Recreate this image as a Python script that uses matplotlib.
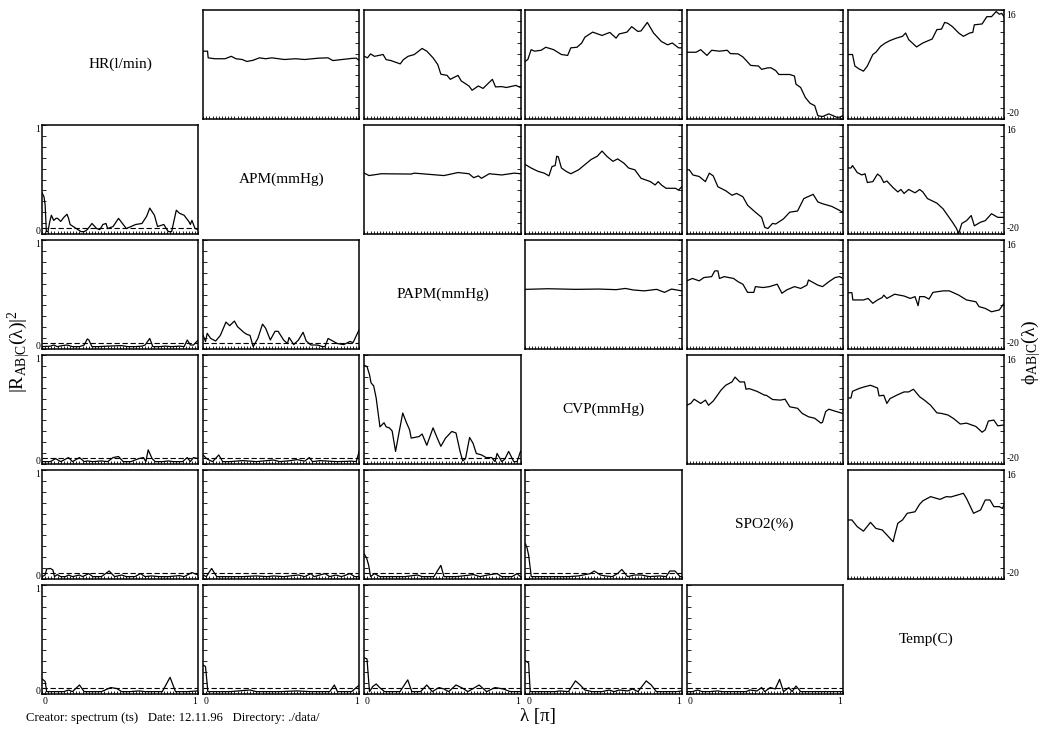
import matplotlib

matplotlib.use("Agg")
import matplotlib.pyplot as plt
import numpy as np

plt.rcParams["font.family"] = ["Liberation Serif", "DejaVu Serif"]
plt.rcParams["mathtext.fontset"] = "custom"
plt.rcParams["mathtext.rm"] = "Liberation Serif"
plt.rcParams["mathtext.it"] = "Liberation Serif:italic"
plt.rcParams["mathtext.bf"] = "Liberation Serif:bold"

NAMES = ["HR(l/min)", "APM(mmHg)", "PAPM(mmHg)", "CVP(mmHg)", "SPO2(%)", "Temp(C)"]

# ---- phase spectra (upper triangle), lambda in [0,1] pi, phase in -20..16
PH_HR_APM_X = [0, 0.028, 0.032, 0.075, 0.14, 0.18, 0.21, 0.25, 0.28, 0.32, 0.36, 0.40, 0.44, 0.52,
               0.59, 0.65, 0.74, 0.80, 0.83, 0.89, 0.95, 0.98, 1.0]
PH_HR_APM_Y = [2.4, 2.4, 0.2, -0.1, -0.1, 0.7, -0.1, -0.35, -1.0, -0.6, 0.2, -0.1, 0.2, -0.35,
               -0.1, -0.35, 0.1, 0.2, -0.7, -0.35, 0.0, 0.1, -0.7]

PH_HR_PAPM_X = [0, 0.02, 0.04, 0.065, 0.12, 0.14, 0.17, 0.23, 0.25, 0.28, 0.32, 0.37, 0.40, 0.44,
                0.47, 0.49, 0.53, 0.55, 0.60, 0.62, 0.67, 0.69, 0.73, 0.76, 0.78, 0.82, 0.84, 0.88,
                0.91, 0.97, 1.0]
PH_HR_PAPM_Y = [0.7, 0.2, 1.5, 0.7, 1.3, -0.4, -0.7, -1.8, -0.4, 0.7, 1.3, 3.3, 2.4, 0.2,
                -2.0, -5.2, -5.6, -6.9, -5.6, -7.4, -9.1, -10.5, -9.1, -9.9, -8.9, -6.9, -9.4, -9.3,
                -9.6, -8.9, -9.6]

PH_HR_CVP_X = [0, 0.015, 0.036, 0.058, 0.10, 0.13, 0.18, 0.23, 0.27, 0.29, 0.33, 0.36, 0.38, 0.43,
               0.49, 0.54, 0.58, 0.60, 0.65, 0.68, 0.72, 0.74, 0.78, 0.82, 0.87, 0.91, 0.94, 0.98, 1.0]
PH_HR_CVP_Y = [-0.9, -0.35, 2.9, 2.4, 2.7, 3.7, 2.9, 1.3, 1.0, 3.5, 3.7, 5.1, 7.0, 8.7,
               7.6, 8.6, 6.7, 8.1, 8.7, 10.5, 8.9, 9.1, 11.9, 8.4, 5.6, 4.5, 5.1, 3.5, 3.5]

PH_HR_SPO2_X = [0, 0.06, 0.09, 0.13, 0.16, 0.21, 0.26, 0.28, 0.33, 0.36, 0.38, 0.41, 0.46, 0.48,
                0.52, 0.54, 0.57, 0.59, 0.66, 0.69, 0.70, 0.73, 0.76, 0.79, 0.82, 0.84, 0.87, 0.91,
                0.96, 0.98, 1.0]
PH_HR_SPO2_Y = [2.05, 2.05, 2.9, 1.0, 2.7, 2.4, 2.7, 1.6, 1.5, 0.5, -0.6, -2.3, -2.5, -3.6,
                -3.1, -3.1, -4.0, -5.3, -5.3, -5.8, -8.5, -9.6, -12.9, -14.8, -15.6, -18.9, -19.2,
                -18.3, -19.4, -19.4, -18.9]

PH_HR_TEMP_X = [0, 0.03, 0.045, 0.07, 0.10, 0.125, 0.16, 0.18, 0.21, 0.24, 0.27, 0.31, 0.35, 0.37,
                0.39, 0.44, 0.48, 0.53, 0.54, 0.57, 0.60, 0.62, 0.64, 0.67, 0.71, 0.74, 0.78, 0.80,
                0.81, 0.86, 0.89, 0.92, 0.95, 0.97, 0.985, 1.0]
PH_HR_TEMP_Y = [1.3, 1.3, -2.5, -3.4, -4.2, -2.5, 1.3, 2.05, 4.0, 5.1, 5.9, 6.7, 7.3, 8.4,
                6.2, 3.8, 5.1, 6.2, 6.4, 9.5, 9.7, 11.9, 11.6, 10.5, 8.4, 7.3, 8.4, 8.6,
                11.1, 11.4, 13.8, 13.8, 15.5, 14.6, 14.9, 13.8]

PH_APM_PAPM_X = [0, 0.03, 0.11, 0.30, 0.32, 0.51, 0.60, 0.67, 0.70, 0.73, 0.75, 0.80, 0.88, 0.96, 1.0]
PH_APM_PAPM_Y = [0.1, -0.7, -0.1, -0.2, 0.1, -0.7, 0.3, -0.1, -1.4, -0.8, -1.6, -0.1, -0.5, 0.1, -0.1]

PH_APM_CVP_X = [0, 0.036, 0.08, 0.12, 0.15, 0.17, 0.19, 0.20, 0.21, 0.23, 0.26, 0.29, 0.34, 0.38,
                0.42, 0.46, 0.49, 0.52, 0.56, 0.59, 0.63, 0.66, 0.70, 0.74, 0.80, 0.83, 0.85, 0.87,
                0.90, 0.96, 0.98, 1.0]
PH_APM_CVP_Y = [2.9, 1.8, 0.7, 0.1, -0.8, 2.3, 2.6, 5.7, 5.5, 1.8, 0.7, -0.1, 1.2, 2.9,
                4.6, 5.7, 7.4, 5.7, 4.0, 4.8, 3.4, 1.8, 1.2, -1.6, -2.7, -3.8, -2.7, -3.8,
                -4.9, -4.9, -5.5, -4.4]

PH_APM_SPO2_X = [0, 0.017, 0.04, 0.08, 0.12, 0.145, 0.17, 0.20, 0.25, 0.29, 0.32, 0.36, 0.39, 0.44,
                 0.48, 0.50, 0.52, 0.55, 0.57, 0.62, 0.66, 0.71, 0.75, 0.81, 0.84, 0.87, 0.93, 0.96, 1.0]
PH_APM_SPO2_Y = [1.2, 1.2, -0.5, -1.0, -2.7, 0.1, -0.8, -4.4, -5.7, -7.2, -6.6, -7.7, -10.5, -12.8,
                 -14.5, -17.8, -18.2, -16.5, -16.7, -15.0, -12.8, -12.4, -8.3, -6.9, -9.4, -10.0,
                 -10.9, -11.7, -12.8]

PH_APM_TEMP_X = [0, 0.02, 0.03, 0.06, 0.09, 0.11, 0.125, 0.16, 0.19, 0.21, 0.23, 0.25, 0.29, 0.32,
                 0.34, 0.36, 0.39, 0.43, 0.46, 0.48, 0.51, 0.57, 0.61, 0.64, 0.67, 0.695, 0.71, 0.73,
                 0.76, 0.79, 0.81, 0.85, 0.88, 0.92, 0.96, 1.0]
PH_APM_TEMP_Y = [1.8, 1.8, 2.6, 0.3, -0.5, -0.1, -3.0, -2.7, -0.2, -1.0, -3.0, -2.5, -4.7, -6.1,
                 -5.3, -6.6, -5.3, -6.4, -5.3, -6.1, -8.3, -9.8, -11.7, -13.9, -16.1, -18.1, -19.8,
                 -16.5, -15.6, -13.9, -17.3, -16.1, -15.6, -13.3, -14.5, -14.5]

PH_PAPM_CVP_X = [0, 0.145, 0.32, 0.47, 0.58, 0.64, 0.69, 0.76, 0.84, 0.89, 0.935, 1.0]
PH_PAPM_CVP_Y = [-0.3, -0.1, -0.3, -0.2, -0.4, 0.0, -0.5, -0.8, -0.3, -1.3, -0.2, -0.8]

PH_PAPM_SPO2_X = [0, 0.037, 0.08, 0.11, 0.16, 0.18, 0.20, 0.21, 0.24, 0.30, 0.33, 0.36, 0.39, 0.43,
                  0.44, 0.49, 0.53, 0.58, 0.61, 0.64, 0.69, 0.73, 0.77, 0.78, 0.84, 0.87, 0.91, 0.95,
                  0.98, 1.0]
PH_PAPM_SPO2_Y = [2.5, 3.3, 2.5, 3.6, 3.9, 5.8, 5.8, 3.3, 3.9, 3.3, 2.2, 1.4, -1.3, -1.3,
                  0.6, 0.3, 0.6, 1.4, -1.6, -0.5, 0.6, 0.0, 1.1, 2.8, 1.1, 0.6, 2.2, 3.6, 3.9, 3.3]

PH_PAPM_TEMP_X = [0, 0.026, 0.032, 0.10, 0.13, 0.16, 0.19, 0.22, 0.23, 0.25, 0.30, 0.36, 0.40, 0.43,
                  0.45, 0.46, 0.49, 0.52, 0.545, 0.61, 0.65, 0.71, 0.76, 0.82, 0.84, 0.88, 0.92, 0.97, 1.0]
PH_PAPM_TEMP_Y = [-1.4, -1.4, -3.8, -3.8, -3.3, -4.9, -3.8, -3.0, -2.2, -3.3, -1.9, -2.5, -3.3, -2.7,
                  -5.7, -2.7, -2.7, -3.5, -1.3, -0.8, -0.8, -2.2, -3.8, -4.4, -6.0, -6.6, -7.7, -7.1, -4.9]

PH_CVP_SPO2_X = [0, 0.026, 0.048, 0.09, 0.12, 0.14, 0.17, 0.19, 0.22, 0.25, 0.29, 0.31, 0.34, 0.37,
                 0.38, 0.40, 0.45, 0.50, 0.51, 0.55, 0.60, 0.63, 0.66, 0.71, 0.74, 0.78, 0.82, 0.86,
                 0.87, 0.89, 0.91, 0.96, 1.0]
PH_CVP_SPO2_Y = [-0.6, 0.0, 1.4, 0.0, 1.1, -0.6, 0.8, 2.2, 4.4, 6.0, 7.1, 8.7, 7.1, 7.1,
                 4.7, 4.9, 4.0, 2.7, 2.7, 1.3, 1.1, 1.4, -1.1, -1.6, -3.3, -4.4, -4.9, -6.5,
                 -6.2, -2.7, -1.9, -2.7, -3.3]

PH_CVP_TEMP_X = [0, 0.02, 0.03, 0.07, 0.10, 0.145, 0.19, 0.20, 0.23, 0.25, 0.27, 0.32, 0.36, 0.39,
                 0.42, 0.46, 0.49, 0.53, 0.57, 0.60, 0.64, 0.675, 0.72, 0.76, 0.82, 0.86, 0.88, 0.90,
                 0.935, 0.96, 1.0]
PH_CVP_TEMP_Y = [1.8, 1.8, 4.0, 4.9, 5.4, 6.0, 5.1, 2.5, 2.7, 0.0, 1.6, 2.9, 3.8, 3.8,
                 4.7, 2.2, 1.1, -0.6, -3.1, -3.3, -3.8, -4.9, -6.8, -6.5, -7.6, -9.5, -8.7, -5.8,
                 -5.5, -7.4, -7.1]

PH_SPO2_TEMP_X = [0, 0.026, 0.06, 0.10, 0.145, 0.18, 0.22, 0.24, 0.26, 0.29, 0.30, 0.32, 0.35, 0.38,
                  0.43, 0.46, 0.48, 0.53, 0.59, 0.63, 0.66, 0.74, 0.76, 0.805, 0.85, 0.88, 0.91, 0.935,
                  0.97, 0.99, 1.0]
PH_SPO2_TEMP_Y = [-0.5, -0.5, -2.7, -4.2, -1.3, -3.3, -3.8, -4.9, -6.0, -7.7, -5.5, -1.6, -0.5, 1.7,
                  2.2, 4.7, 5.8, 7.2, 6.3, 7.2, 7.1, 8.3, 6.6, 1.7, 2.8, 6.1, 6.1, 3.9, 3.9, 3.3, 4.4]

# ---- partial coherence (lower triangle), 0..1
CO_HR_APM_X = [0, 0.013, 0.02, 0.028, 0.038, 0.05, 0.06, 0.075, 0.09, 0.10, 0.12, 0.14, 0.16, 0.17,
               0.18, 0.20, 0.23, 0.25, 0.27, 0.29, 0.32, 0.35, 0.37, 0.39, 0.41, 0.42, 0.455, 0.49,
               0.52, 0.54, 0.57, 0.60, 0.64, 0.67, 0.69, 0.72, 0.74, 0.78, 0.80, 0.81, 0.83, 0.84,
               0.86, 0.88, 0.91, 0.94, 0.95, 0.96, 0.98, 1.0]
CO_HR_APM_Y = [0.38, 0.34, 0.26, 0.0, 0.0, 0.10, 0.16, 0.11, 0.13, 0.13, 0.10, 0.14, 0.17, 0.13,
               0.07, 0.05, 0.02, 0.0, 0.0, 0.02, 0.08, 0.03, 0.02, 0.07, 0.08, 0.03, 0.05, 0.13,
               0.07, 0.03, 0.05, 0.07, 0.08, 0.15, 0.23, 0.16, 0.05, 0.07, 0.02, 0.0, 0.0, 0.07,
               0.21, 0.18, 0.16, 0.10, 0.07, 0.11, 0.03, 0.02]

CO_HR_PAPM_X = [0, 0.054, 0.076, 0.097, 0.13, 0.16, 0.195, 0.24, 0.27, 0.29, 0.30, 0.32, 0.36, 0.42,
                0.51, 0.55, 0.595, 0.64, 0.66, 0.69, 0.71, 0.75, 0.79, 0.83, 0.88, 0.91, 0.93, 0.95,
                0.97, 1.0]
CO_HR_PAPM_Y = [0.0, 0.005, 0.016, 0.0, 0.01, 0.016, 0.0, 0.0, 0.016, 0.075, 0.065, 0.0, 0.0, 0.005,
                0.01, 0.0, 0.0, 0.005, 0.016, 0.08, 0.0, 0.0, 0.005, 0.0, 0.005, 0.0, 0.065, 0.016,
                0.016, 0.065]

CO_APM_PAPM_X = [0, 0.015, 0.026, 0.048, 0.08, 0.11, 0.146, 0.17, 0.20, 0.22, 0.26, 0.28, 0.30, 0.32,
                 0.35, 0.38, 0.40, 0.43, 0.46, 0.48, 0.515, 0.54, 0.55, 0.58, 0.61, 0.64, 0.66, 0.69,
                 0.73, 0.765, 0.78, 0.80, 0.83, 0.86, 0.90, 0.94, 0.96, 1.0]
CO_APM_PAPM_Y = [0.11, 0.05, 0.13, 0.08, 0.055, 0.11, 0.24, 0.205, 0.25, 0.195, 0.14, 0.12, 0.11, 0.0,
                 0.08, 0.22, 0.18, 0.065, 0.15, 0.15, 0.065, 0.03, 0.09, 0.02, 0.065, 0.14, 0.055, 0.016,
                 0.016, 0.0, 0.0, 0.08, 0.055, 0.03, 0.02, 0.05, 0.04, 0.17]

CO_HR_CVP_X = [0, 0.03, 0.054, 0.087, 0.12, 0.17, 0.195, 0.24, 0.27, 0.29, 0.325, 0.38, 0.42, 0.455,
               0.49, 0.52, 0.57, 0.62, 0.65, 0.665, 0.68, 0.705, 0.725, 0.77, 0.81, 0.84, 0.90, 0.93,
               0.95, 0.97, 1.0]
CO_HR_CVP_Y = [0.0, 0.0, 0.0, 0.03, 0.0, 0.04, 0.0, 0.04, 0.0, 0.007, 0.0, 0.007, 0.0, 0.04,
               0.05, 0.0, 0.0, 0.03, 0.04, 0.0, 0.115, 0.03, 0.0, 0.0, 0.007, 0.0, 0.0, 0.04,
               0.0, 0.04, 0.03]

CO_APM_CVP_X = [0, 0.015, 0.026, 0.06, 0.10, 0.125, 0.17, 0.21, 0.25, 0.30, 0.34, 0.41, 0.45, 0.49,
                0.56, 0.60, 0.65, 0.68, 0.70, 0.75, 0.80, 0.86, 0.95, 0.98, 1.0]
CO_APM_CVP_Y = [0.065, 0.04, 0.025, 0.0, 0.065, 0.0, 0.0, 0.005, 0.01, 0.005, 0.0, 0.01, 0.016, 0.0,
                0.01, 0.02, 0.005, 0.04, 0.0, 0.01, 0.005, 0.0, 0.005, 0.0, 0.105]

CO_PAPM_CVP_X = [0, 0.017, 0.033, 0.043, 0.06, 0.076, 0.087, 0.10, 0.126, 0.14, 0.16, 0.178, 0.20,
                 0.224, 0.246, 0.27, 0.29, 0.30, 0.35, 0.37, 0.40, 0.44, 0.467, 0.49, 0.52, 0.56,
                 0.587, 0.613, 0.63, 0.648, 0.674, 0.696, 0.717, 0.75, 0.78, 0.815, 0.837, 0.85,
                 0.88, 0.90, 0.924, 0.957, 0.978, 1.0]
CO_PAPM_CVP_Y = [0.94, 0.93, 0.85, 0.77, 0.74, 0.62, 0.49, 0.34, 0.38, 0.34, 0.33, 0.30, 0.10,
                 0.30, 0.475, 0.38, 0.31, 0.23, 0.245, 0.27, 0.16, 0.33, 0.23, 0.15, 0.23, 0.295,
                 0.28, 0.10, 0.007, 0.03, 0.236, 0.18, 0.08, 0.066, 0.04, 0.04, 0.0, 0.08,
                 0.0, 0.026, 0.10, 0.0, 0.0, 0.10]

CO_HR_SPO2_X = [0, 0.02, 0.03, 0.054, 0.07, 0.08, 0.097, 0.12, 0.15, 0.17, 0.195, 0.24, 0.26, 0.30,
                0.325, 0.38, 0.43, 0.465, 0.51, 0.54, 0.595, 0.63, 0.66, 0.70, 0.75, 0.81, 0.88, 0.91,
                0.96, 1.0]
CO_HR_SPO2_Y = [0.0, 0.016, 0.075, 0.08, 0.065, 0.0, 0.02, 0.0, 0.0, 0.016, 0.0, 0.016, 0.0, 0.03,
                0.0, 0.0, 0.055, 0.0, 0.016, 0.0, 0.0, 0.03, 0.0, 0.007, 0.0, 0.0, 0.01, 0.0,
                0.04, 0.016]

CO_APM_SPO2_X = [0, 0.02, 0.054, 0.087, 0.17, 0.25, 0.34, 0.41, 0.45, 0.515, 0.61, 0.65, 0.69, 0.71,
                 0.78, 0.81, 0.85, 0.885, 0.94, 0.97, 1.0]
CO_APM_SPO2_Y = [0.016, 0.0, 0.08, 0.0, 0.0, 0.0, 0.007, 0.0, 0.007, 0.0, 0.016, 0.0, 0.03, 0.0,
                 0.03, 0.0, 0.016, 0.0, 0.03, 0.0, 0.0]

CO_PAPM_SPO2_X = [0, 0.015, 0.028, 0.04, 0.065, 0.1, 0.15, 0.26, 0.34, 0.37, 0.445, 0.49, 0.51, 0.587,
                  0.63, 0.70, 0.74, 0.79, 0.85, 0.88, 0.946, 0.978, 1.0]
CO_PAPM_SPO2_Y = [0.22, 0.18, 0.11, 0.0, 0.03, 0.0, 0.0, 0.0, 0.016, 0.0, 0.0, 0.11, 0.0, 0.0,
                  0.007, 0.02, 0.0, 0.016, 0.03, 0.0, 0.0, 0.03, 0.0]

CO_CVP_SPO2_X = [0, 0.01, 0.02, 0.037, 0.058, 0.145, 0.21, 0.275, 0.34, 0.415, 0.44, 0.48, 0.51, 0.556,
                 0.589, 0.617, 0.654, 0.697, 0.74, 0.794, 0.859, 0.90, 0.924, 0.957, 0.99, 1.0]
CO_CVP_SPO2_Y = [0.32, 0.28, 0.21, 0.0, 0.0, 0.0, 0.0, 0.0, 0.007, 0.03, 0.055, 0.016, 0.007, 0.0,
                 0.03, 0.07, 0.0, 0.016, 0.016, 0.0, 0.007, 0.0, 0.055, 0.055, 0.0, 0.0]

CO_HR_TEMP_X = [0, 0.02, 0.03, 0.054, 0.097, 0.14, 0.17, 0.195, 0.24, 0.27, 0.315, 0.38, 0.44, 0.48,
                0.51, 0.565, 0.62, 0.66, 0.725, 0.77, 0.82, 0.855, 0.90, 0.93, 1.0]
CO_HR_TEMP_Y = [0.125, 0.10, 0.0, 0.0, 0.0, 0.0, 0.016, 0.0, 0.065, 0.0, 0.0, 0.0, 0.04, 0.03,
                0.0, 0.0, 0.007, 0.0, 0.0, 0.0, 0.14, 0.0, 0.0, 0.0, 0.007]

CO_APM_TEMP_X = [0, 0.015, 0.03, 0.08, 0.17, 0.30, 0.34, 0.43, 0.49, 0.60, 0.69, 0.78, 0.81, 0.84,
                 0.86, 0.95, 1.0]
CO_APM_TEMP_Y = [0.26, 0.245, 0.0, 0.0, 0.0, 0.016, 0.0, 0.0, 0.0, 0.007, 0.0, 0.0, 0.0, 0.065,
                 0.0, 0.0, 0.065]

CO_PAPM_TEMP_X = [0, 0.017, 0.033, 0.054, 0.076, 0.098, 0.13, 0.196, 0.228, 0.278, 0.304, 0.36, 0.40,
                  0.435, 0.478, 0.51, 0.54, 0.587, 0.63, 0.663, 0.735, 0.783, 0.837, 0.89, 0.935,
                  0.967, 1.0]
CO_PAPM_TEMP_Y = [0.33, 0.32, 0.0, 0.05, 0.075, 0.04, 0.0, 0.0, 0.0, 0.115, 0.0, 0.0, 0.065,
                  0.0, 0.04, 0.026, 0.0, 0.065, 0.033, 0.0, 0.065, 0.0, 0.04, 0.026, 0.0,
                  0.0, 0.0]

CO_CVP_TEMP_X = [0, 0.02, 0.03, 0.058, 0.10, 0.19, 0.22, 0.275, 0.32, 0.35, 0.38, 0.426, 0.49, 0.535,
                 0.567, 0.60, 0.654, 0.686, 0.72, 0.773, 0.805, 0.838, 0.90, 0.968, 1.0]
CO_CVP_TEMP_Y = [0.30, 0.28, 0.0, 0.0, 0.0, 0.0, 0.007, 0.0, 0.105, 0.065, 0.016, 0.0, 0.0, 0.016,
                 0.0, 0.016, 0.007, 0.026, 0.0, 0.105, 0.065, 0.0, 0.0, 0.0, 0.007]

CO_SPO2_TEMP_X = [0, 0.037, 0.07, 0.10, 0.145, 0.20, 0.23, 0.32, 0.38, 0.405, 0.45, 0.48, 0.50, 0.535,
                  0.567, 0.595, 0.62, 0.654, 0.675, 0.70, 0.73, 0.794, 0.85, 0.88, 0.946, 1.0]
CO_SPO2_TEMP_Y = [0.0, 0.0, 0.016, 0.0, 0.0, 0.007, 0.0, 0.0, 0.0, 0.016, 0.007, 0.04, 0.0, 0.04,
                  0.026, 0.12, 0.0, 0.04, 0.0, 0.055, 0.0, 0.0, 0.0, 0.0, 0.0, 0.0]

SIG_LEVEL = 0.04   # dashed significance line in coherence panels

PHASE = {
    (0, 1): (PH_HR_APM_X, PH_HR_APM_Y), (0, 2): (PH_HR_PAPM_X, PH_HR_PAPM_Y),
    (0, 3): (PH_HR_CVP_X, PH_HR_CVP_Y), (0, 4): (PH_HR_SPO2_X, PH_HR_SPO2_Y),
    (0, 5): (PH_HR_TEMP_X, PH_HR_TEMP_Y), (1, 2): (PH_APM_PAPM_X, PH_APM_PAPM_Y),
    (1, 3): (PH_APM_CVP_X, PH_APM_CVP_Y), (1, 4): (PH_APM_SPO2_X, PH_APM_SPO2_Y),
    (1, 5): (PH_APM_TEMP_X, PH_APM_TEMP_Y), (2, 3): (PH_PAPM_CVP_X, PH_PAPM_CVP_Y),
    (2, 4): (PH_PAPM_SPO2_X, PH_PAPM_SPO2_Y), (2, 5): (PH_PAPM_TEMP_X, PH_PAPM_TEMP_Y),
    (3, 4): (PH_CVP_SPO2_X, PH_CVP_SPO2_Y), (3, 5): (PH_CVP_TEMP_X, PH_CVP_TEMP_Y),
    (4, 5): (PH_SPO2_TEMP_X, PH_SPO2_TEMP_Y),
}
COH = {
    (1, 0): (CO_HR_APM_X, CO_HR_APM_Y), (2, 0): (CO_HR_PAPM_X, CO_HR_PAPM_Y),
    (2, 1): (CO_APM_PAPM_X, CO_APM_PAPM_Y), (3, 0): (CO_HR_CVP_X, CO_HR_CVP_Y),
    (3, 1): (CO_APM_CVP_X, CO_APM_CVP_Y), (3, 2): (CO_PAPM_CVP_X, CO_PAPM_CVP_Y),
    (4, 0): (CO_HR_SPO2_X, CO_HR_SPO2_Y), (4, 1): (CO_APM_SPO2_X, CO_APM_SPO2_Y),
    (4, 2): (CO_PAPM_SPO2_X, CO_PAPM_SPO2_Y), (4, 3): (CO_CVP_SPO2_X, CO_CVP_SPO2_Y),
    (5, 0): (CO_HR_TEMP_X, CO_HR_TEMP_Y), (5, 1): (CO_APM_TEMP_X, CO_APM_TEMP_Y),
    (5, 2): (CO_PAPM_TEMP_X, CO_PAPM_TEMP_Y), (5, 3): (CO_CVP_TEMP_X, CO_CVP_TEMP_Y),
    (5, 4): (CO_SPO2_TEMP_X, CO_SPO2_TEMP_Y),
}

W, H = 1042, 733
fig = plt.figure(figsize=(W / 100, H / 100), dpi=100)
gs = fig.add_gridspec(6, 6, left=42 / W, right=1004 / W, top=1 - 10 / H, bottom=1 - 694 / H,
                      wspace=0.032, hspace=0.055)

CO_LIM = (-0.023, 1.042)
PH_LIM = (-20, 16)
FS_TICK = 7

for i in range(6):
    for j in range(6):
        ax = fig.add_subplot(gs[i, j])
        if i == j:
            ax.axis("off")
            ax.text(0.5, 0.5, NAMES[i], ha="center", va="center", fontsize=11,
                    transform=ax.transAxes)
            continue
        for sp in ax.spines.values():
            sp.set_linewidth(1.1)
        ax.set_xlim(0, 1)
        ax.set_xticks(np.linspace(0, 1, 51))
        ax.tick_params(axis="x", direction="in", length=2, width=0.6, labelbottom=False,
                       bottom=True, top=False)

        if i < j:
            x, y = PHASE[(i, j)]
            ax.plot(x, y, color="black", lw=0.9)
            ax.set_ylim(*PH_LIM)
            ax.set_yticks(np.linspace(PH_LIM[0], PH_LIM[1], 11))
            ax.yaxis.tick_right()
            ax.tick_params(axis="y", direction="in", length=3, width=0.6, labelright=False,
                           left=False, right=True)
            if j == 5:
                ax.text(1.015, 0.995, "16", transform=ax.transAxes, ha="left", va="top",
                        fontsize=FS_TICK)
                ax.text(1.015, 0.01, "-20", transform=ax.transAxes, ha="left", va="bottom",
                        fontsize=FS_TICK)
        else:
            x, y = COH[(i, j)]
            ax.plot(x, y, color="black", lw=0.9)
            ax.axhline(SIG_LEVEL, color="black", lw=0.8, ls=(0, (4.8, 2.4)))
            ax.set_ylim(*CO_LIM)
            ax.set_yticks(np.linspace(CO_LIM[0], CO_LIM[1], 11))
            ax.tick_params(axis="y", direction="in", length=3, width=0.6, labelleft=False,
                           left=True, right=False)
            if j == 0:
                tr = ax.get_yaxis_transform()
                ax.text(-0.012, 1, "1", transform=tr, ha="right", va="center", fontsize=FS_TICK)
                ax.text(-0.012, 0, "0", transform=tr, ha="right", va="center", fontsize=FS_TICK)
            if i == 5:
                tr = ax.get_xaxis_transform()
                ax.text(0.02, -0.03, "0", transform=tr, ha="center", va="top", fontsize=FS_TICK)
                ax.text(0.98, -0.03, "1", transform=tr, ha="center", va="top", fontsize=FS_TICK)

fig.text(19 / W, 1 - 352 / H, "$|\\mathrm{R}_{\\mathrm{AB|C}}(\\mathrm{λ})|^2$",
         rotation=90, ha="center", va="center", fontsize=14)
fig.text(1031 / W, 1 - 352 / H, "$\\mathrm{ϕ}_{\\mathrm{AB|C}}(\\mathrm{λ})$",
         rotation=90, ha="center", va="center", fontsize=14)
fig.text(538 / W, 1 - 716 / H, "λ [π]", ha="center", va="center", fontsize=13.5)
fig.text(26 / W, 1 - 718 / H, "Creator: spectrum (ts)   Date: 12.11.96   Directory: ./data/",
         ha="left", va="center", fontsize=9.2)

fig.savefig("out.png", dpi=100)
